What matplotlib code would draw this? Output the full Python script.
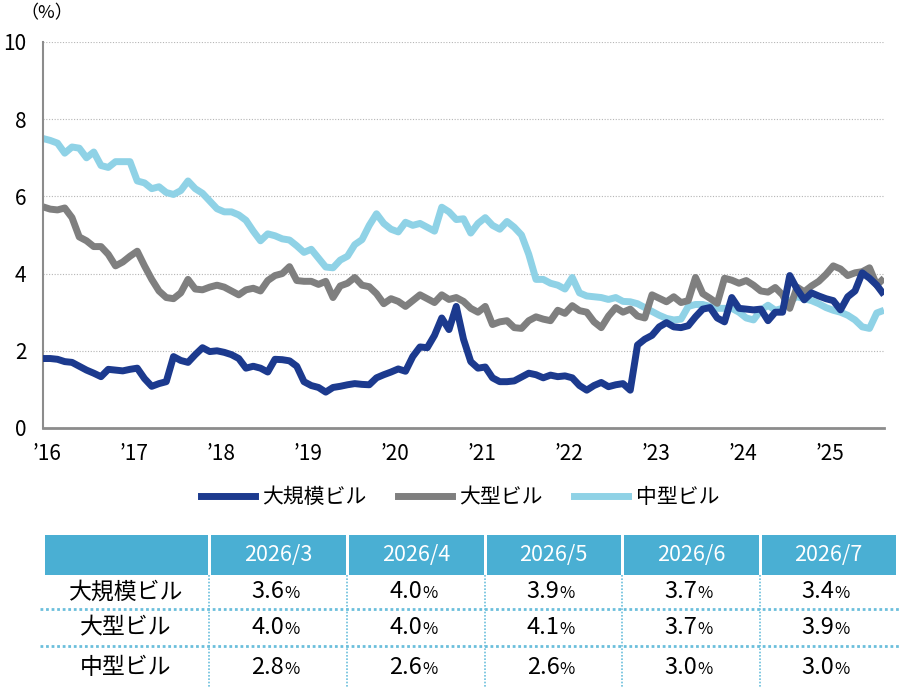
import numpy as np
import matplotlib.pyplot as plt
import matplotlib.transforms as mtransforms
from matplotlib.lines import Line2D
from matplotlib.patches import Rectangle

plt.rcParams['font.family'] = ['Noto Sans CJK JP', 'DejaVu Sans']

# monthly vacancy rates (%), Jan 2016 onward
year_labels = ["’16", "’17", "’18", "’19", "’20", "’21", "’22", "’23", "’24", "’25"]

large_scale = [  # 大規模ビル
    1.8, 1.8, 1.78, 1.72, 1.7, 1.6, 1.5, 1.42, 1.33, 1.52, 1.5, 1.48, 1.52, 1.55, 1.28, 1.08, 1.15, 1.2, 1.85, 1.75, 1.7,
    1.9, 2.08, 1.98, 2.0, 1.96, 1.9, 1.8, 1.55, 1.6, 1.55, 1.45, 1.78, 1.77, 1.74, 1.6, 1.2, 1.1, 1.05, 0.93,
    1.05, 1.08, 1.12, 1.15, 1.13, 1.12, 1.3, 1.38, 1.45, 1.53, 1.47, 1.85, 2.1, 2.08, 2.4, 2.85, 2.55, 3.15, 2.3, 1.72,
    1.55, 1.58, 1.3, 1.2, 1.2, 1.22, 1.32, 1.42, 1.38, 1.3, 1.37, 1.33, 1.35, 1.3, 1.1, 0.98, 1.1, 1.18, 1.07,
    1.12, 1.15, 0.98, 2.15, 2.3, 2.4, 2.62, 2.73, 2.62, 2.6, 2.65, 2.88, 3.08, 3.12, 2.85, 2.75, 3.38, 3.1, 3.08,
    3.06, 3.08, 2.78, 3.0, 3.0, 3.95, 3.6, 3.32, 3.5, 3.42, 3.35, 3.3, 3.06, 3.4, 3.55, 4.02, 3.88, 3.7, 3.45,
]
large = [  # 大型ビル
    5.73, 5.67, 5.65, 5.7, 5.45, 4.95, 4.85, 4.7, 4.7, 4.5, 4.2, 4.3, 4.45, 4.58, 4.2, 3.85, 3.55, 3.38, 3.35, 3.5, 3.85,
    3.6, 3.58, 3.65, 3.7, 3.65, 3.55, 3.45, 3.58, 3.62, 3.55, 3.82, 3.95, 4.0, 4.18, 3.82, 3.8, 3.8, 3.72, 3.8,
    3.38, 3.68, 3.75, 3.9, 3.7, 3.66, 3.48, 3.22, 3.35, 3.28, 3.15, 3.3, 3.45, 3.35, 3.25, 3.45, 3.33, 3.38, 3.28, 3.1,
    3.0, 3.15, 2.68, 2.75, 2.78, 2.6, 2.58, 2.78, 2.88, 2.82, 2.78, 3.05, 2.97, 3.17, 3.04, 3.0, 2.75, 2.6, 2.9,
    3.12, 3.0, 3.08, 2.9, 2.85, 3.45, 3.36, 3.27, 3.4, 3.25, 3.3, 3.9, 3.48, 3.36, 3.23, 3.88, 3.83, 3.75, 3.82,
    3.7, 3.55, 3.52, 3.64, 3.45, 3.1, 3.65, 3.53, 3.68, 3.8, 3.98, 4.2, 4.12, 3.95, 4.02, 4.05, 4.15, 3.7, 3.88,
]
mid = [  # 中型ビル
    7.5, 7.45, 7.38, 7.12, 7.28, 7.25, 7.0, 7.15, 6.8, 6.75, 6.9, 6.9, 6.9, 6.4, 6.35, 6.2, 6.25, 6.1, 6.05, 6.15, 6.4,
    6.2, 6.08, 5.88, 5.68, 5.6, 5.6, 5.52, 5.38, 5.1, 4.85, 5.03, 4.98, 4.9, 4.87, 4.72, 4.55, 4.63, 4.4, 4.17,
    4.15, 4.35, 4.45, 4.75, 4.88, 5.25, 5.55, 5.3, 5.15, 5.08, 5.33, 5.25, 5.3, 5.2, 5.1, 5.72, 5.6, 5.4, 5.42, 5.05,
    5.3, 5.45, 5.25, 5.15, 5.35, 5.2, 5.0, 4.5, 3.85, 3.85, 3.75, 3.7, 3.6, 3.9, 3.5, 3.42, 3.4, 3.38, 3.33,
    3.38, 3.28, 3.27, 3.22, 3.12, 3.02, 2.92, 2.84, 2.8, 2.82, 3.15, 3.2, 3.2, 3.15, 3.1, 3.1, 3.1, 3.0, 2.85,
    2.8, 3.05, 3.18, 3.05, 3.1, 3.3, 3.4, 3.35, 3.3, 3.22, 3.12, 3.05, 3.0, 2.92, 2.8, 2.62, 2.58, 2.98, 3.05,
]

series_names = ["大規模ビル", "大型ビル", "中型ビル"]
series_colors = ["#1c3a8e", "#7f7f7f", "#8fd2e6"]

# forecast table
table_months = ["2026/3", "2026/4", "2026/5", "2026/6", "2026/7"]
table_values = [
    [3.6, 4.0, 3.9, 3.7, 3.4],
    [4.0, 4.0, 4.1, 3.7, 3.9],
    [2.8, 2.6, 2.6, 3.0, 3.0],
]

W, H = 900, 691
fig = plt.figure(figsize=(W / 100, H / 100), dpi=100)
ax = fig.add_axes([43 / W, 1 - 428 / H, (884 - 43) / W, 386 / H])

months = np.arange(len(large_scale))
all_series = [large_scale, large, mid]
# light blue at the back, navy on top
for vals, color, z in zip(all_series, series_colors, [4, 3, 2]):
    ax.plot(months, vals, color=color, lw=5, solid_joinstyle="round",
            solid_capstyle="butt", zorder=z)

ax.set_xlim(0, len(large_scale) - 1)
ax.set_ylim(0, 10)
ax.set_yticks([0, 2, 4, 6, 8, 10])
ax.set_xticks(np.arange(len(year_labels)) * 12)
ax.set_xticklabels(year_labels)
ax.tick_params(length=0, labelsize=15)
ax.tick_params(axis="y", pad=12)
ax.tick_params(axis="x", pad=11)
shift = mtransforms.ScaledTranslation(4 / 100, 0, fig.dpi_scale_trans)
for lbl in ax.get_xticklabels():
    lbl.set_transform(lbl.get_transform() + shift)
ax.grid(axis="y", color="#b5b5b5", ls=(0, (1, 1.5)), lw=0.8)
for s in ["top", "right"]:
    ax.spines[s].set_visible(False)
ax.spines["left"].set_color("#8c8c8c")
ax.spines["left"].set_linewidth(1.5)
ax.spines["bottom"].set_color("#8c8c8c")
ax.spines["bottom"].set_linewidth(2)

fig.text(20 / W, 1 - 13 / H, "（%）", fontsize=13, va="center", ha="left")

handles = [Line2D([], [], color=c, lw=5) for c in series_colors]
fig.legend(handles, series_names, loc="center", ncol=3, frameon=False,
           bbox_to_anchor=(460 / W, 1 - 497 / H), fontsize=15,
           handlelength=2.6, handletextpad=0.35, columnspacing=1.5)

# table drawn in pixel coordinates on an overlay axes
tab = fig.add_axes([0, 0, 1, 1])
tab.set_xlim(0, W)
tab.set_ylim(H, 0)
tab.axis("off")

col_edges = [43, 209, 347, 485, 622, 760, 897]
head_top, head_bot = 535, 575
row_edges = [575, 609, 646, 688]
head_color = "#4aafd3"
dot_color = "#6bbfdc"

for i in range(len(col_edges) - 1):
    x0, x1 = col_edges[i] + 1.5, col_edges[i + 1] - 1.5
    tab.add_patch(Rectangle((x0, head_top), x1 - x0, head_bot - head_top,
                            facecolor=head_color, edgecolor="none"))
for j, m in enumerate(table_months):
    xc = (col_edges[j + 1] + col_edges[j + 2]) / 2
    tab.text(xc, (head_top + head_bot) / 2, m, color="white", fontsize=15.5,
             ha="center", va="center")

for y in row_edges[1:3]:
    tab.plot([40, W], [y, y], color=dot_color, ls=(0, (1, 1)), lw=2)
for x in col_edges[1:-1]:
    tab.plot([x, x], [row_edges[0], row_edges[-1]], color=dot_color,
             ls=(0, (1, 1)), lw=1.2)

for i, name in enumerate(series_names):
    yc = (row_edges[i] + row_edges[i + 1]) / 2
    tab.text((col_edges[0] + col_edges[1]) / 2, yc, name, fontsize=16.5,
             ha="center", va="center")
    for j, v in enumerate(table_values[i]):
        xc = (col_edges[j + 1] + col_edges[j + 2]) / 2
        tab.text(xc + 6, yc, f"{v:.1f}", fontsize=17, ha="right", va="center")
        tab.text(xc + 6, yc + 2, "%", fontsize=12, ha="left", va="center")

fig.savefig("out.png", dpi=100)
